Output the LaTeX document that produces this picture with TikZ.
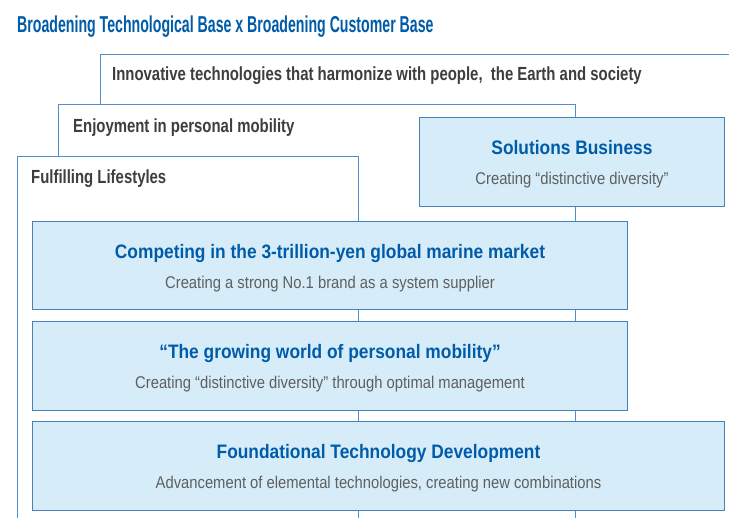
\documentclass[tikz,border=0pt]{standalone}
\usepackage{fontspec}
\setmainfont{Liberation Sans}
\newfontfamily\titlefont[FakeStretch=0.615]{Liberation Sans}
\newfontfamily\layerfont[FakeStretch=0.785]{Liberation Sans}
\newfontfamily\headfont[FakeStretch=0.89]{Liberation Sans}
\newfontfamily\subfont[FakeStretch=0.87]{Liberation Sans}
\usepackage{tikz}
\usetikzlibrary{positioning}
\definecolor{titleblue}{RGB}{0, 92, 169}
\definecolor{edgeblue}{RGB}{80, 142, 205}
\definecolor{paleblue}{RGB}{214, 236, 249}
\definecolor{textgray}{RGB}{62, 62, 62}
\definecolor{subgray}{RGB}{95, 95, 95}

\tikzset{
  layer/.style={draw=edgeblue, fill=white, line width=0.9pt, anchor=north west, inner sep=0pt},
  layertext/.style={text=textgray, font=\layerfont\bfseries\fontsize{19}{21}\selectfont, anchor=base west, inner sep=0pt},
  pillar/.style={draw=edgeblue!90!black, fill=paleblue, line width=1pt, anchor=north west, inner sep=0pt},
  pillarhead/.style={text=titleblue, font=\headfont\bfseries\fontsize{19.5}{21}\selectfont, anchor=base, inner sep=0pt},
  pillarsub/.style={text=subgray, font=\subfont\fontsize{17}{19}\selectfont, anchor=base, inner sep=0pt}
}

\begin{document}
\begin{tikzpicture}[x=1pt, y=-1pt]
            \clip (0,0) rectangle (729,518);
            \fill[white] (0,0) rectangle (729,518);
            % title
            \node[text=titleblue, font=\titlefont\bfseries\fontsize{23}{25}\selectfont, anchor=base west, inner sep=0pt]
                 (title) at (17,33) {Broadening Technological Base x Broadening Customer Base};
            % stacked layers
            \node[layer, minimum width=700pt, minimum height=560pt] (innov)  at (100, 54) {};
            \node[layer, minimum width=517pt, minimum height=500pt] (enjoy)  at ( 58,104) {};
            \node[layer, minimum width=341pt, minimum height=450pt] (fulfil) at ( 17,156) {};
            \node[layertext] (innovtxt)  at (112, 81) {Innovative technologies that harmonize with people,\ \ the Earth and society};
            \node[layertext] (enjoytxt)  at ( 73,133) {Enjoyment in personal mobility};
            \node[layertext] (fulfiltxt) at ( 31,184) {Fulfilling Lifestyles};
            % business boxes
            \node[pillar, minimum width=305pt, minimum height=89pt] (solution) at (419,117) {};
            \node[pillar, minimum width=595pt, minimum height=88pt] (marine)   at ( 32,221) {};
            \node[pillar, minimum width=595pt, minimum height=89pt] (mobility) at ( 32,321) {};
            \node[pillar, minimum width=692pt, minimum height=89pt] (founding) at ( 32,421) {};
            \node[pillarhead] (solutionhead) at ([yshift=-38pt]solution.north) {Solutions Business};
            \node[pillarsub]  (solutionsub)  at ([yshift=-68pt]solution.north) {Creating “distinctive diversity”};
            \node[pillarhead] (marinehead)   at ([yshift=-38pt]marine.north)   {Competing in the 3-trillion-yen global marine market};
            \node[pillarsub]  (marinesub)    at ([yshift=-68pt]marine.north)   {Creating a strong No.1 brand as a system supplier};
            \node[pillarhead] (mobilityhead) at ([yshift=-38pt]mobility.north) {“The growing world of personal mobility”};
            \node[pillarsub]  (mobilitysub)  at ([yshift=-68pt]mobility.north) {Creating “distinctive diversity” through optimal management};
            \node[pillarhead] (foundinghead) at ([yshift=-38pt]founding.north) {Foundational Technology Development};
            \node[pillarsub]  (foundingsub)  at ([yshift=-68pt]founding.north) {Advancement of elemental technologies, creating new combinations};
\end{tikzpicture}
\end{document}
